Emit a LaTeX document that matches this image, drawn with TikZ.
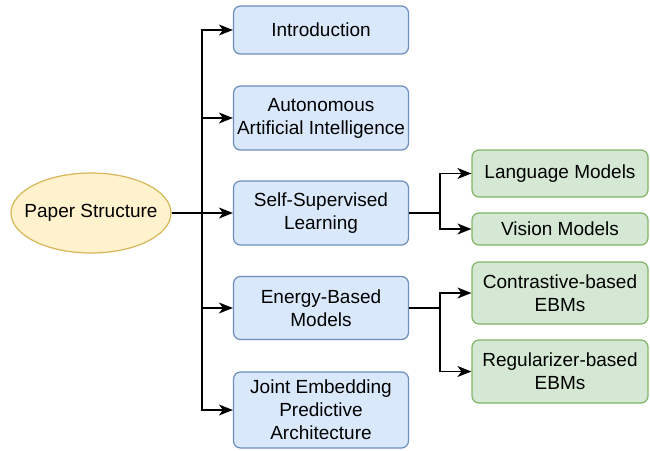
\documentclass[tikz,border=0pt]{standalone}
\usepackage{fontspec}
\setmainfont{Liberation Sans}
\usetikzlibrary{arrows.meta,shapes.geometric}
\definecolor{bfill}{HTML}{DAE8FC}
\definecolor{bline}{HTML}{6C8EBF}
\definecolor{gfill}{HTML}{D5E8D4}
\definecolor{gline}{HTML}{82B366}
\definecolor{yfill}{HTML}{FFF2CC}
\definecolor{yline}{HTML}{D6B656}
\begin{document}
\begin{tikzpicture}[x=1pt,y=-1pt,
  txt/.style={align=center, inner sep=0pt, font=\fontsize{19}{23}\selectfont},
  bluebox/.style={txt, draw=bline, fill=bfill, rounded corners=7pt, line width=1.2pt, minimum width=175pt},
  greenbox/.style={txt, draw=gline, fill=gfill, rounded corners=7pt, line width=1.2pt, minimum width=176pt},
  rootnode/.style={txt, ellipse, draw=yline, fill=yfill, line width=1.2pt, inner xsep=-12pt, minimum width=160pt, minimum height=80pt},
  arr/.style={draw=black, line width=1.4pt, -{Stealth[length=14pt,width=11pt,inset=4pt]}}
]
\useasboundingbox (0,0) rectangle (650,450);
\node[rootnode] (ps) at (91,213) {Paper Structure};
\node[bluebox, minimum height=48pt] (intro) at (321,30) {Introduction};
\node[bluebox, minimum height=64pt] (aai) at (321,118) {Autonomous\\Artificial Intelligence};
\node[bluebox, minimum height=64pt] (ssl) at (321,213) {Self-Supervised\\Learning};
\node[bluebox, minimum height=63pt] (ebm) at (321,308) {Energy-Based\\Models};
\node[bluebox, minimum height=76pt] (jepa) at (321,410) {Joint Embedding\\Predictive\\Architecture};
\node[greenbox, minimum height=47pt] (lm) at (560,173.5) {Language Models};
\node[greenbox, minimum height=32pt] (vm) at (560,229) {Vision Models};
\node[greenbox, minimum height=62pt] (cb) at (560,293) {Contrastive-based\\EBMs};
\node[greenbox, minimum height=63pt] (rb) at (560,371.5) {Regularizer-based\\EBMs};
\coordinate (j) at (202,213);
\coordinate (js) at (440,213);
\coordinate (je) at (440,308);
\draw[arr] (ps.east) -- (j) |- (intro.west);
\draw[arr] (ps.east) -- (j) |- (aai.west);
\draw[arr] (ps.east) -- (ssl.west);
\draw[arr] (ps.east) -- (j) |- (ebm.west);
\draw[arr] (ps.east) -- (j) |- (jepa.west);
\draw[arr] (ssl.east) -- (js) |- (lm.west);
\draw[arr] (ssl.east) -- (js) |- (vm.west);
\draw[arr] (ebm.east) -- (je) |- (cb.west);
\draw[arr] (ebm.east) -- (je) |- (rb.west);
\end{tikzpicture}
\end{document}
